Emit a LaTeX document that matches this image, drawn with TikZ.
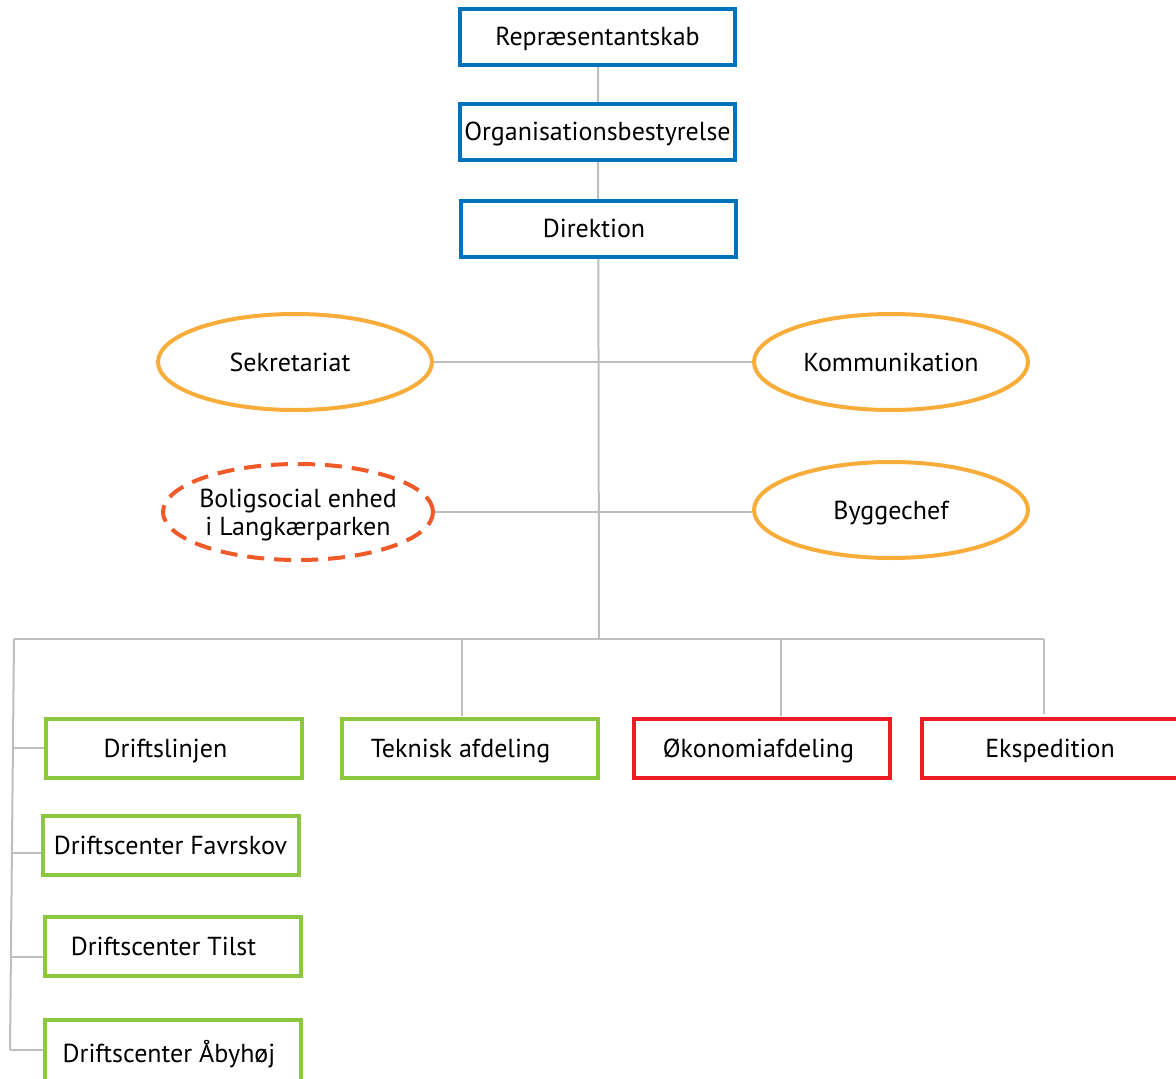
\documentclass[tikz,border=0pt]{standalone}
\usepackage{fontspec}
\setmainfont{PT Sans}
\usetikzlibrary{shapes.geometric}
\definecolor{boxblue}{RGB}{0,114,188}
\definecolor{ellorange}{RGB}{248,172,58}
\definecolor{dashorange}{RGB}{240,90,40}
\definecolor{boxgreen}{RGB}{141,198,63}
\definecolor{boxred}{RGB}{237,28,36}
\definecolor{linegray}{RGB}{190,190,190}
\tikzset{
  lbl/.style={font=\fontsize{26}{28}\selectfont, text depth=0pt},
  bluebox/.style={lbl, draw=boxblue, fill=white, line width=4pt, rectangle, minimum width=275pt, minimum height=56pt, inner sep=0pt},
  greenbox/.style={lbl, draw=boxgreen, fill=white, line width=4pt, rectangle, minimum width=256pt, minimum height=59pt, inner sep=0pt},
  redbox/.style={lbl, draw=boxred, fill=white, line width=4pt, rectangle, minimum width=256pt, minimum height=59pt, inner sep=0pt},
  oell/.style={lbl, draw=ellorange, fill=white, line width=4pt, ellipse, minimum width=274pt, minimum height=96pt, inner sep=0pt},
  dell/.style={lbl, draw=dashorange, fill=white, line width=4pt, ellipse, dash pattern=on 17pt off 10pt, minimum width=270pt, minimum height=96pt, inner sep=-30pt, align=center},
  conn/.style={draw=linegray, line width=2pt}
}
\begin{document}
\begin{tikzpicture}[x=1pt,y=-1pt]
\useasboundingbox (0,0) rectangle (1176,1079);
\clip (0,0) rectangle (1176,1079);
% coordinates
\coordinate (bus) at (599,639);
\coordinate (busL) at (14,639);
\coordinate (busR) at (1044,639);
\coordinate (busT) at (462,639);
\coordinate (busO) at (781,639);
\coordinate (spineB) at (10,1050);
% connectors (drawn first)
\draw[conn] (598,66) -- (bus);
\draw[conn] (434,362) -- (752,362);
\draw[conn] (434,512) -- (752,512);
\draw[conn] (busL) -- (busR);
\draw[conn] (busT) -- (462,716);
\draw[conn] (busO) -- (781,716);
\draw[conn] (busR) -- (1044,714);
\draw[conn] (busL) -- (spineB);
\draw[conn] (13,748) -- (44,748);
\draw[conn] (12,853) -- (41,853);
\draw[conn] (11,957) -- (43,957);
\draw[conn] (spineB) -- (43,1050);
% nodes
\node[bluebox] (rep) at (597.5,36.5) {Repræsentantskab};
\node[bluebox] (org) at (597.5,131.5) {Organisationsbestyrelse};
\node[bluebox] (dir) at (598,228.5) {\hspace*{-8pt}Direktion};
\node[oell] (sek) at (295,362) {\hspace*{-10pt}Sekretariat};
\node[oell] (kom) at (891,362) {Kommunikation};
\node[dell] (bol) at (298,512) {Boligsocial enhed\\i Langkærparken};
\node[oell] (byg) at (891,510) {Byggechef};
\node[greenbox] (dl) at (173.5,748) {\hspace*{-16pt}Driftslinjen};
\node[greenbox] (fav) at (170.5,845) {Driftscenter Favrskov};
\node[greenbox] (til) at (172.5,946.5) {\hspace*{-18pt}Driftscenter Tilst};
\node[greenbox, minimum height=70pt] (aby) at (172.5,1055) {};
\node[lbl] (abyt) at (169,1051) {Driftscenter Åbyhøj};
\node[greenbox] (tek) at (469.5,748) {\hspace*{-18pt}Teknisk afdeling};
\node[redbox] (oko) at (761.5,748) {\hspace*{-6pt}Økonomiafdeling};
\node[redbox, minimum width=270pt] (eks) at (1057,748) {\hspace*{-14pt}Ekspedition};
\end{tikzpicture}
\end{document}
